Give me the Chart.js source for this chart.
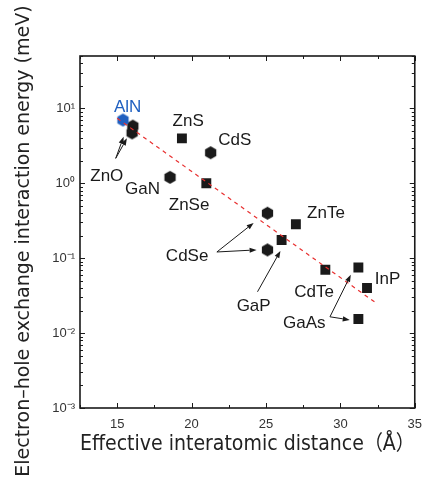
<!DOCTYPE html>
<html><head><meta charset="utf-8">
<script src="https://cdn.jsdelivr.net/npm/chart.js@4.4.1/dist/chart.umd.min.js"></script>
<style>html,body{margin:0;padding:0;background:#fff;}#wrap{width:431px;height:478px;position:relative;}</style>
</head><body><div id="wrap"><canvas id="c" width="431" height="478" style="width:431px;height:478px;"></canvas></div>
<script>
// ---- data ----
const hexNames  = ['ZnO', 'ZnO', 'GaN', 'CdS', 'CdSe', 'CdSe'];
const hexDist   = [16.05, 16.0, 18.55, 21.28, 25.1, 25.1];
const hexEnergy = [5.8, 4.7, 1.2, 2.56, 0.398, 0.129];
const sqNames   = ['ZnS', 'ZnSe', 'GaP', 'ZnTe', 'CdTe', 'GaAs', 'InP', 'GaAs'];
const sqDist    = [19.35, 20.99, 26.05, 27.01, 28.99, 31.21, 31.79, 31.21];
const sqEnergy  = [3.98, 1.0, 0.175, 0.284, 0.070, 0.075, 0.040, 0.0154];
const alnNames  = ['AlN'];
const alnDist   = [15.39];
const alnEnergy = [6.98];
const fitDist   = [15.0, 32.35];
const fitEnergy = [7.36, 0.0256];
const xTickValues = [15, 20, 25, 30, 35];
const yTickValues = [0.001, 0.01, 0.1, 1, 10];
const yTickLabels = ['10⁻³', '10⁻²', '10⁻¹', '10⁰', '10¹'];

// ---- annotations (label anchors and arrows, in data units) ----
const labelText = ['AlN', 'ZnS', 'CdS', 'ZnO', 'GaN', 'ZnSe', 'ZnTe', 'CdSe', 'GaP', 'CdTe', 'InP', 'GaAs'];
const labelX    = [15.7, 19.77, 22.9, 14.3, 16.7, 19.83, 29.03, 19.7, 24.17, 28.23, 33.17, 27.57];
const labelY    = [10.4, 6.77, 3.78, 1.25, 0.84, 0.514, 0.402, 0.107, 0.0231, 0.0345, 0.053, 0.0137];
const arrowFromX = [14.9, 14.9, 21.7, 21.7, 24.43, 29.3, 29.3];
const arrowFromY = [2.15, 2.15, 0.121, 0.121, 0.0356, 0.0165, 0.0165];
const arrowToX   = [15.43, 15.65, 24.17, 24.37, 25.97, 30.7, 30.63];
const arrowToY   = [4.18, 3.98, 0.296, 0.129, 0.125, 0.0599, 0.0150];

const INK = '#1a1a1a';
const BLUE = '#2060c0';
const FONT = "'Liberation Sans', Arial, 'Noto Sans CJK JP', sans-serif";
const TITLE_FONT = "'DejaVu Sans', 'Noto Sans CJK JP', sans-serif";

function hexImg(color, R) {
  const c = document.createElement('canvas');
  const s = Math.ceil(R * 2) + 2;
  c.width = s; c.height = s;
  const g = c.getContext('2d');
  g.fillStyle = color;
  g.beginPath();
  for (let i = 0; i < 6; i++) {
    const a = Math.PI / 2 + i * Math.PI / 3;
    const px = s / 2 + R * Math.cos(a), py = s / 2 + R * Math.sin(a);
    i ? g.lineTo(px, py) : g.moveTo(px, py);
  }
  g.closePath(); g.fill();
  return c;
}
const zip = (xs, ys) => xs.map((v, i) => ({x: v, y: ys[i]}));

const overlay = {
  id: 'overlay',
  afterDatasetsDraw(chart) {
    const {ctx, chartArea: a, scales: {x, y}} = chart;
    ctx.save();
    ctx.strokeStyle = INK;
    const seg = (x1, y1, x2, y2) => { ctx.beginPath(); ctx.moveTo(x1, y1); ctx.lineTo(x2, y2); ctx.stroke(); };
    // ticks (inside, mirrored)
    ctx.lineWidth = 1;
    for (let v = x.min; v <= x.max + 1e-9; v += 2.5) {
      const px = Math.round(x.getPixelForValue(v)) + 0.5;
      const L = (Math.abs(v % 5) < 1e-9) ? 5 : 3;
      seg(px, a.bottom, px, a.bottom - L);
      seg(px, a.top, px, a.top + L);
    }
    for (let e = -3; e <= 1; e++) {
      for (let m = 1; m <= 9; m++) {
        const v = m * Math.pow(10, e);
        if (v > y.max) break;
        const py = Math.round(y.getPixelForValue(v)) + 0.5;
        const L = m === 1 ? 5 : 3;
        seg(a.left, py, a.left + L, py);
        seg(a.right, py, a.right - L, py);
      }
    }
    // frame
    ctx.lineWidth = 1.6;
    ctx.strokeRect(a.left, a.top, a.right - a.left, a.bottom - a.top);
    // arrows
    ctx.lineWidth = 1;
    ctx.fillStyle = INK;
    for (let i = 0; i < arrowFromX.length; i++) {
      const x1 = x.getPixelForValue(arrowFromX[i]), y1 = y.getPixelForValue(arrowFromY[i]);
      const x2 = x.getPixelForValue(arrowToX[i]), y2 = y.getPixelForValue(arrowToY[i]);
      const ang = Math.atan2(y2 - y1, x2 - x1);
      const hl = 7, hw = 2.6;
      const bx = x2 - hl * Math.cos(ang), by = y2 - hl * Math.sin(ang);
      seg(x1, y1, bx, by);
      ctx.beginPath();
      ctx.moveTo(x2, y2);
      ctx.lineTo(bx + hw * Math.sin(ang), by - hw * Math.cos(ang));
      ctx.lineTo(bx - hw * Math.sin(ang), by + hw * Math.cos(ang));
      ctx.closePath(); ctx.fill();
    }
    // labels
    ctx.font = '17px ' + FONT;
    ctx.textAlign = 'center';
    ctx.textBaseline = 'middle';
    for (let i = 0; i < labelText.length; i++) {
      ctx.fillStyle = labelText[i] === 'AlN' ? BLUE : INK;
      ctx.fillText(labelText[i], x.getPixelForValue(labelX[i]), y.getPixelForValue(labelY[i]));
    }
    ctx.restore();
  }
};

new Chart(document.getElementById('c'), {
  type: 'scatter',
  data: {
    datasets: [
      {label: 'fit', type: 'line', data: zip(fitDist, fitEnergy), borderColor: '#e83030', borderWidth: 1.2,
       borderDash: [4, 4], pointRadius: 0, fill: false, order: 0},
      {label: 'AlN', data: zip(alnDist, alnEnergy), pointStyle: hexImg(BLUE, 6.5), pointRadius: 6, order: 1},
      {label: 'hexagonal', data: zip(hexDist, hexEnergy), pointStyle: hexImg(INK, 6.5), pointRadius: 6, order: 2},
      {label: 'cubic', data: zip(sqDist, sqEnergy), pointStyle: 'rect', pointRadius: 7,
       backgroundColor: INK, borderWidth: 0, order: 2}
    ]
  },
  options: {
    responsive: false,
    maintainAspectRatio: false,
    animation: false,
    devicePixelRatio: 1,
    layout: {padding: {top: 56, right: 16, left: 0, bottom: 0}},
    plugins: {legend: {display: false}, tooltip: {enabled: false}},
    scales: {
      x: {
        type: 'linear', min: 12.5, max: 35,
        grid: {display: false, drawTicks: false}, border: {display: false},
        afterBuildTicks: s => { s.ticks = xTickValues.map(v => ({value: v})); },
        ticks: {font: {size: 13, family: FONT}, color: '#333', padding: 9, maxRotation: 0,
                callback: v => String(v)},
        title: {display: true, text: 'Effective interatomic distance（Å）', color: '#222',
                font: {size: 21, family: TITLE_FONT}, padding: {top: 0, bottom: 21}},
        afterFit: s => { s.height = 70; }
      },
      y: {
        type: 'logarithmic', min: 0.001, max: 50,
        grid: {display: false, drawTicks: false}, border: {display: false},
        afterBuildTicks: s => { s.ticks = yTickValues.map(v => ({value: v})); },
        ticks: {font: {size: 13, family: FONT}, color: '#333', padding: 5,
                callback: (v) => { const i = yTickValues.findIndex(t => Math.abs(t - v) / t < 1e-6); return i >= 0 ? yTickLabels[i] : ''; }},
        title: {display: true, text: 'Electron–hole exchange interaction energy (meV)   ', color: '#222',
                font: {size: 19, family: TITLE_FONT}, padding: {top: 13, bottom: 0}},
        afterFit: s => { s.width = 80; }
      }
    }
  },
  plugins: [overlay]
});
</script></body></html>
